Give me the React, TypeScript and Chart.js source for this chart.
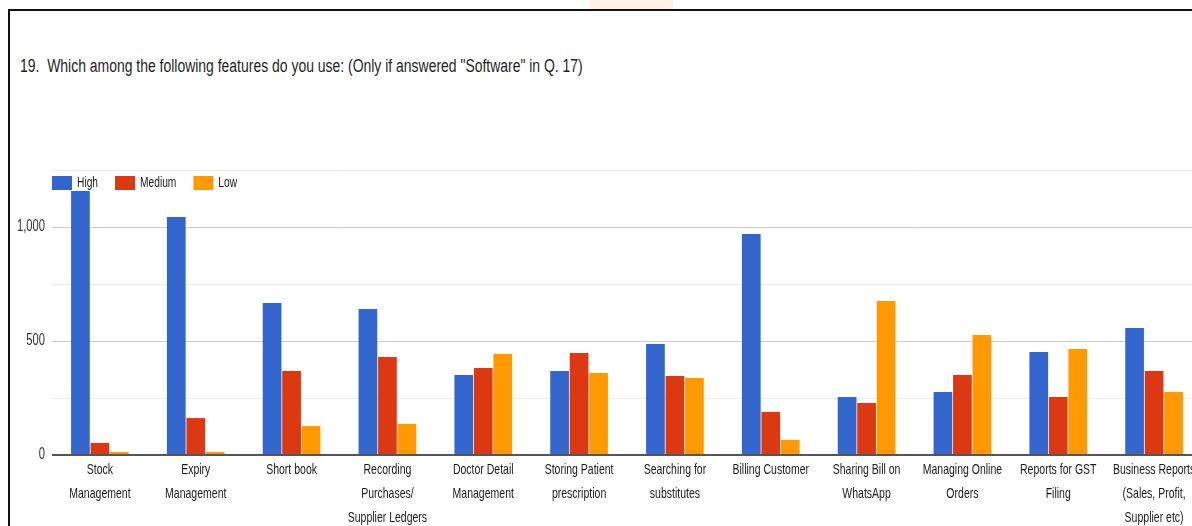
import React, { useEffect, useRef } from "react";
import { Chart, registerables } from "chart.js";

Chart.register(...registerables);

// Survey question 19: feature usage split by High / Medium / Low
const categories: (string | string[])[] = [
  ["Stock", "Management"],
  ["Expiry", "Management"],
  "Short book",
  ["Recording", "Purchases/", "Supplier Ledgers"],
  ["Doctor Detail", "Management"],
  ["Storing Patient", "prescription"],
  ["Searching for", "substitutes"],
  "Billing Customer",
  ["Sharing Bill on", "WhatsApp"],
  ["Managing Online", "Orders"],
  ["Reports for GST", "Filing"],
  ["Business Reports", "(Sales, Profit,", "Supplier etc)"],
];

const high = [1158, 1044, 667, 640, 351, 368, 487, 969, 254, 276, 452, 557];
const medium = [53, 162, 368, 430, 382, 447, 346, 189, 228, 351, 254, 368];
const low = [13, 13, 127, 136, 443, 360, 338, 66, 675, 526, 465, 276];

const seriesNames = ["High", "Medium", "Low"];
const seriesColors = ["#3366cc", "#dc3912", "#ff9900"];
const labelledTicks = [0, 500, 1000];

const titleText =
  '19.  Which among the following features do you use: (Only if answered "Software" in Q. 17)';

const FONT = "'Liberation Sans', Arial, sans-serif";

// horizontal squeeze for canvas text (condensed look), chosen per font size
function squeezeFor(font: string): number {
  if (font.includes("15px")) return 0.7;
  if (font.includes("16px")) return 0.7;
  return 0.73;
}

function condenseText(ctx: any) {
  if (ctx.__condensed) return;
  ctx.__condensed = true;
  const fill = ctx.fillText.bind(ctx);
  const measure = ctx.measureText.bind(ctx);
  ctx.fillText = (text: string, x: number, y: number, maxWidth?: number) => {
    const sx = squeezeFor(ctx.font);
    ctx.save();
    ctx.translate(x, y);
    ctx.scale(sx, 1);
    if (maxWidth !== undefined && maxWidth !== null) fill(text, 0, 0, maxWidth / sx);
    else fill(text, 0, 0);
    ctx.restore();
  };
  ctx.measureText = (text: string) => {
    const sx = squeezeFor(ctx.font);
    const m = measure(text);
    return {
      width: m.width * sx,
      actualBoundingBoxLeft: m.actualBoundingBoxLeft * sx,
      actualBoundingBoxRight: m.actualBoundingBoxRight * sx,
      actualBoundingBoxAscent: m.actualBoundingBoxAscent,
      actualBoundingBoxDescent: m.actualBoundingBoxDescent,
      fontBoundingBoxAscent: m.fontBoundingBoxAscent,
      fontBoundingBoxDescent: m.fontBoundingBoxDescent,
    };
  };
}

// Legend drawn inside the plot, just under the top gridline
const insideLegend = {
  id: "insideLegend",
  afterDatasetsDraw(chart: any) {
    const { ctx, chartArea } = chart;
    ctx.save();
    ctx.font = `14px ${FONT}`;
    ctx.textBaseline = "middle";
    ctx.textAlign = "left";
    let x = chartArea.left;
    const y = chartArea.top + 6;
    chart.data.datasets.forEach((ds: any) => {
      ctx.fillStyle = ds.backgroundColor;
      ctx.fillRect(x, y, 20, 14);
      ctx.fillStyle = "#1a1a1a";
      ctx.fillText(ds.label, x + 25, y + 7.5);
      x += 25 + ctx.measureText(ds.label).width + 17;
    });
    ctx.restore();
  },
};

function FeatureChart() {
  const canvasRef = useRef<HTMLCanvasElement | null>(null);

  useEffect(() => {
    const canvas = canvasRef.current;
    if (!canvas) return;
    condenseText(canvas.getContext("2d"));
    const values = [high, medium, low];
    const chart = new Chart(canvas, {
      type: "bar",
      data: {
        labels: categories,
        datasets: seriesNames.map((name, i) => ({
          label: name,
          data: values[i],
          backgroundColor: seriesColors[i],
          borderWidth: 0,
          categoryPercentage: 0.61,
          barPercentage: 0.96,
        })),
      },
      plugins: [insideLegend],
      options: {
        responsive: false,
        animation: false,
        layout: { padding: { left: 0, right: 0, top: 159, bottom: 0 } },
        plugins: {
          legend: { display: false },
          tooltip: { enabled: false },
          title: { display: false },
        },
        scales: {
          x: {
            grid: { display: false, drawTicks: false },
            border: { display: false },
            ticks: {
              color: "#1a1a1a",
              font: { family: FONT, size: 15, lineHeight: 24 / 15 },
              padding: 3,
              maxRotation: 0,
              autoSkip: false,
            },
          },
          y: {
            min: 0,
            max: 1250,
            border: { display: false },
            grid: {
              drawTicks: false,
              color: (c: any) => {
                const v = c.tick?.value;
                if (v === 0) return "#555555";
                return labelledTicks.includes(v) ? "#cccccc" : "#ebebeb";
              },
              lineWidth: (c: any) => (c.tick?.value === 0 ? 2 : 1),
            },
            ticks: {
              stepSize: 250,
              color: "#333333",
              padding: 7,
              font: { family: FONT, size: 16 },
              callback: (v: any) =>
                labelledTicks.includes(Number(v)) ? Number(v).toLocaleString("en-US") : "",
            },
            afterFit: (scale: any) => {
              scale.width = 42;
            },
          },
        },
      },
    });
    return () => chart.destroy();
  }, []);

  return (
    <canvas
      ref={canvasRef}
      width={1192}
      height={522}
      style={{ position: "absolute", left: 10, top: 11, width: 1192, height: 522, display: "block" }}
    />
  );
}

export default function App() {
  return (
    <div
      style={{
        position: "fixed",
        left: 0,
        top: 0,
        width: 1192,
        height: 526,
        overflow: "hidden",
        background: "#ffffff",
      }}
    >
      <div
        style={{
          position: "absolute",
          left: 589,
          top: 0,
          width: 84,
          height: 9,
          background: "#fff1e4",
        }}
      />
      <div
        style={{
          position: "absolute",
          left: 8,
          top: 9,
          width: 1400,
          height: 700,
          borderTop: "2px solid #111111",
          borderLeft: "2px solid #111111",
        }}
      />
      <div
        style={{
          position: "absolute",
          left: 20,
          top: 56,
          fontFamily: FONT,
          fontSize: 18,
          lineHeight: "21.6px",
          color: "#1f1f1f",
          whiteSpace: "pre",
          transform: "scaleX(0.775)",
          transformOrigin: "0 0",
        }}
      >
        {titleText}
      </div>
      <FeatureChart />
    </div>
  );
}
